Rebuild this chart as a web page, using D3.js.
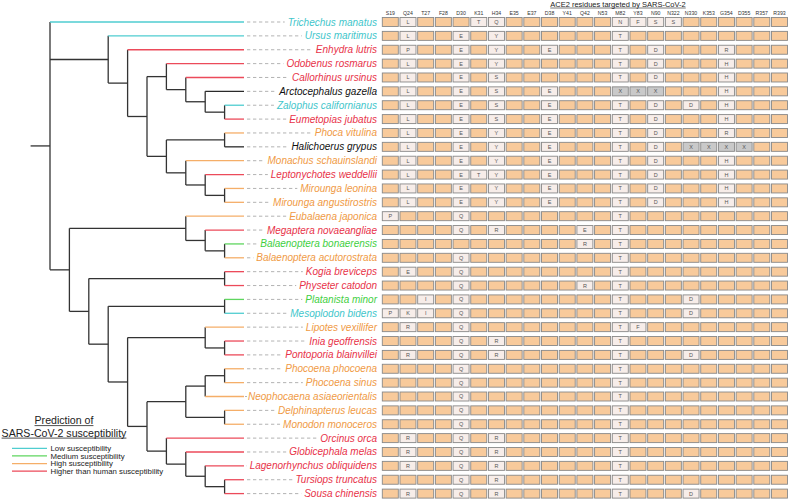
<!DOCTYPE html>
<html><head><meta charset="utf-8">
<script src="https://cdn.jsdelivr.net/npm/d3@7"></script>
<style>body{margin:0;background:#fff}svg{display:block}</style>
</head><body><svg id="chart" width="789" height="500"></svg>
<script>
const species = ["Trichechus manatus","Ursus maritimus","Enhydra lutris","Odobenus rosmarus","Callorhinus ursinus","Arctocephalus gazella","Zalophus californianus","Eumetopias jubatus","Phoca vitulina","Halichoerus grypus","Monachus schauinslandi","Leptonychotes weddellii","Mirounga leonina","Mirounga angustirostris","Eubalaena japonica","Megaptera novaeangliae","Balaenoptera bonaerensis","Balaenoptera acutorostrata","Kogia breviceps","Physeter catodon","Platanista minor","Mesoplodon bidens","Lipotes vexillifer","Inia geoffrensis","Pontoporia blainvillei","Phocoena phocoena","Phocoena sinus","Neophocaena asiaeorientalis","Delphinapterus leucas","Monodon monoceros","Orcinus orca","Globicephala melas","Lagenorhynchus obliquidens","Tursiops truncatus","Sousa chinensis"];
const susceptibility = ["low","low","higher","higher","higher","none","low","higher","high","none","high","higher","high","high","high","higher","medium","high","higher","higher","medium","low","high","higher","higher","high","high","high","high","high","higher","higher","higher","higher","higher"];
const residues = ["S19","Q24","T27","F28","D30","K31","H34","E35","E37","D38","Y41","Q42","N53","M82","Y83","N90","N322","N330","K353","G354","D355","R357","R393"];
const substitutions = [
 "Q24:L K31:T H34:Q M82:N Y83:F N90:S N322:S",
 "Q24:L D30:E H34:Y M82:T",
 "Q24:P D30:E H34:Y D38:E M82:T N90:D G354:R",
 "Q24:L D30:E H34:Y M82:T N90:D G354:H",
 "Q24:L D30:E H34:S M82:T N90:D G354:H",
 "Q24:L D30:E H34:S D38:E M82:X Y83:X N90:X G354:H",
 "Q24:L D30:E H34:S D38:E M82:T N90:D N330:D G354:H",
 "Q24:L D30:E H34:S D38:E M82:T N90:D G354:H",
 "Q24:L D30:E H34:Y D38:E M82:T N90:D G354:R",
 "Q24:L D30:E H34:Y D38:E M82:T N90:D N330:X K353:X G354:X D355:X",
 "Q24:L D30:E H34:Y D38:E M82:T N90:D G354:H",
 "Q24:L D30:E K31:T H34:Y D38:E M82:T N90:D G354:H",
 "Q24:L D30:E H34:Y D38:E M82:T N90:D G354:H",
 "Q24:L D30:E H34:Y D38:E M82:T N90:D G354:H",
 "S19:P D30:Q M82:T",
 "D30:Q H34:R Q42:E M82:T",
 "Q42:R M82:T",
 "D30:Q M82:T",
 "Q24:E D30:Q M82:T",
 "D30:Q Q42:R M82:T",
 "T27:I D30:Q M82:T N330:D",
 "S19:P Q24:K T27:I D30:Q M82:T N330:D",
 "Q24:R D30:Q M82:T Y83:F",
 "D30:Q H34:R M82:T",
 "Q24:R D30:Q H34:R M82:T N330:D",
 "D30:Q M82:T",
 "D30:Q M82:T",
 "D30:Q M82:T",
 "D30:Q M82:T",
 "D30:Q M82:T",
 "Q24:R D30:Q H34:R M82:T",
 "Q24:R D30:Q H34:R M82:T",
 "Q24:R D30:Q H34:R M82:T",
 "D30:Q H34:R M82:T",
 "Q24:R D30:Q H34:R M82:T N330:D"
];
const treeNewick = "(Trichechus manatus,(Ursus maritimus,(Enhydra lutris,((Odobenus rosmarus,(Callorhinus ursinus,(Arctocephalus gazella,(Zalophus californianus,Eumetopias jubatus)))),((Phoca vitulina,Halichoerus grypus),(Monachus schauinslandi,(Leptonychotes weddellii,(Mirounga leonina,Mirounga angustirostris))))))),((Eubalaena japonica,(Megaptera novaeangliae,(Balaenoptera bonaerensis,Balaenoptera acutorostrata))),((Kogia breviceps,Physeter catodon),((Platanista minor,Mesoplodon bidens),((Lipotes vexillifer,(Inia geoffrensis,Pontoporia blainvillei)),((((Phocoena phocoena,Phocoena sinus),Neophocaena asiaeorientalis),(Delphinapterus leucas,Monodon monoceros)),(Orcinus orca,(Globicephala melas,(Lagenorhynchus obliquidens,(Tursiops truncatus,Sousa chinensis))))))))))";
const legendLabels = ["Low susceptibility","Medium susceptibility","High susceptibility","Higher than human susceptibility"];
const legendKeys = ["low","medium","high","higher"];

const branchColor = {low:"#4fcdd0",medium:"#5fd65f",high:"#f5ae68",higher:"#ec4a5a",none:"#2a2a2a"};
const textColor = {low:"#3fc6cb",medium:"#3fcf3f",high:"#f09a45",higher:"#e83249",none:"#111"};

const svg = d3.select("#chart");
const font = "Liberation Sans, Arial, sans-serif";

function parseNewick(s){
  let i=0;
  function node(){
    if(s[i]==="("){
      i++; const children=[node()];
      while(s[i]===","){i++;children.push(node());}
      i++; return {children};
    }
    let name=""; while(i<s.length && !",()".includes(s[i])) name+=s[i++];
    return {name:name.trim()};
  }
  return node();
}

const y = d3.scalePoint().domain(species).range([22, 493.6]);
const col = d3.scalePoint().domain(residues).range([390.3, 779.5]);
const root = d3.hierarchy(parseNewick(treeNewick));
const x = d3.scaleLinear().domain([0, root.height]).range([244, 50]);
const statusOf = Object.fromEntries(species.map((s,i)=>[s,susceptibility[i]]));

root.eachAfter(n=>{
  n.px = x(n.height);
  if(n.children){ n.py = (n.children[0].py + n.children[n.children.length-1].py)/2; }
  else n.py = y(n.data.name);
});

const tree = svg.append("g").attr("fill","none").attr("stroke-width",1.3);
tree.append("line").attr("x1",x(root.height+1)).attr("x2",root.px).attr("y1",root.py).attr("y2",root.py).attr("stroke","#333");
root.descendants().forEach(n=>{
  if(n.children){
    tree.append("line").attr("x1",n.px).attr("x2",n.px)
      .attr("y1",n.children[0].py).attr("y2",n.children[n.children.length-1].py).attr("stroke","#333");
  }
  if(n.parent){
    const c = n.children ? "#333" : branchColor[statusOf[n.data.name]];
    tree.append("line").attr("x1",n.parent.px).attr("x2",n.px).attr("y1",n.py).attr("y2",n.py).attr("stroke",c);
  }
});

const labelX = 377;
species.forEach((s,i)=>{
  const t = svg.append("text").attr("x",labelX).attr("y",y(s)).attr("dy","0.35em")
    .attr("text-anchor","end").attr("font-family",font).attr("font-style","italic")
    .attr("font-size",10).attr("fill",textColor[susceptibility[i]]).text(s);
  const w = t.node().getComputedTextLength();
  svg.append("line").attr("x1",247).attr("x2",labelX-w-3).attr("y1",y(s)).attr("y2",y(s))
    .attr("stroke","#aaa").attr("stroke-width",0.9).attr("stroke-dasharray","3.3,2.7");
});

svg.append("text").attr("x",618).attr("y",6.5).attr("text-anchor","middle").attr("font-family",font)
  .attr("font-size",7.5).attr("fill","#222").text("ACE2 residues targeted by SARS-CoV-2")
  .each(function(){const w=this.getComputedTextLength();
    svg.append("line").attr("x1",618-w/2).attr("x2",618+w/2).attr("y1",8).attr("y2",8).attr("stroke","#222").attr("stroke-width",0.6);});
svg.selectAll("text.res").data(residues).join("text").attr("class","res")
  .attr("x",d=>col(d)).attr("y",15).attr("text-anchor","middle").attr("font-family",font)
  .attr("font-size",5.2).attr("fill","#333").text(d=>d);

species.forEach((s,i)=>{
  const subs = Object.fromEntries(substitutions[i].split(" ").filter(Boolean).map(p=>p.split(":")));
  residues.forEach(r=>{
    const v = subs[r];
    svg.append("rect").attr("x",col(r)-8).attr("y",y(s)-4.5).attr("width",16).attr("height",9)
      .attr("fill", v ? (v==="X" ? "#c9c9c9" : "#f7ede9") : "#f8ca9b")
      .attr("stroke","#888").attr("stroke-width",0.9);
    if(v) svg.append("text").attr("x",col(r)).attr("y",y(s)).attr("dy","0.36em").attr("text-anchor","middle")
      .attr("font-family",font).attr("font-size",5.5).attr("fill","#555").text(v);
  });
});

const lg = svg.append("g").attr("font-family",font);
[["Prediction of",424],["SARS-CoV-2 susceptibility",436.5]].forEach(([t,yy])=>{
  lg.append("text").attr("x",64).attr("y",yy).attr("text-anchor","middle").attr("font-size",10.6).attr("fill","#222").text(t)
    .each(function(){const w=this.getComputedTextLength();
      lg.append("line").attr("x1",64-w/2).attr("x2",64+w/2).attr("y1",yy+1.6).attr("y2",yy+1.6).attr("stroke","#222").attr("stroke-width",0.8);});
});
const ly = d3.scalePoint().domain(legendKeys).range([448.3, 471.2]);
legendKeys.forEach((k,i)=>{
  lg.append("line").attr("x1",12).attr("x2",47).attr("y1",ly(k)).attr("y2",ly(k)).attr("stroke",branchColor[k]).attr("stroke-width",1.2);
  lg.append("text").attr("x",50.5).attr("y",ly(k)).attr("dy","0.35em").attr("font-size",7.8).attr("fill","#222").text(legendLabels[i]);
});
</script></body></html>
